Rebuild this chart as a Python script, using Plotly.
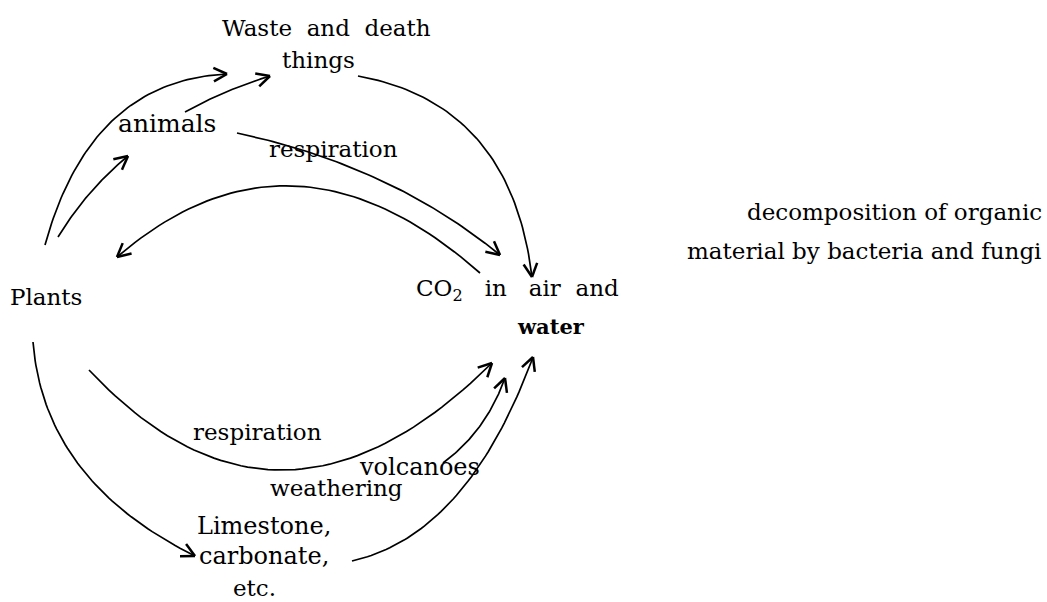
import numpy as np
import plotly.graph_objects as go

NB = "\u00a0"

# ---- text labels of the carbon-cycle diagram ----
label_text = [
    f"Waste{NB*2}and{NB*2}death",
    "things",
    "animals",
    "respiration",
    "Plants",
    f"CO<sub>2</sub>{NB*3}in{NB*3}air{NB*2}and",
    "<b>water</b>",
    "respiration",
    "volcanoes",
    "weathering",
    "Limestone,",
    "carbonate,",
    "etc.",
]
label_x = [326, 318, 167, 333, 46, 517, 551, 257, 419, 336, 264, 264, 254]
label_y = [28, 60, 123, 149, 297, 290, 326, 432, 467, 488, 526, 556, 588]
label_size = [23, 23, 25, 23, 23, 23, 21, 23, 24, 23, 24, 24, 23]

side_text = ["decomposition of organic", "material by bacteria and fungi"]
side_x = [894, 864]
side_y = [212, 251]

# ---- arrows: start point, point at mid-curve, end point (arrowhead at end) ----
arrow_sx = [45, 58, 185, 358, 237, 480, 89, 33, 443, 352]
arrow_sy = [245, 237, 112, 76, 133, 273, 370, 342, 463, 561]
arrow_mx = [113, 90, 226, 478, 380, 295, 285, 79, 480, 455]
arrow_my = [120, 193, 92, 140, 180, 186, 470, 465, 426, 497]
arrow_ex = [227, 128, 270, 532, 500, 117, 492, 195, 505, 533]
arrow_ey = [74, 156, 76, 277, 255, 257, 363, 556, 378, 357]

W, H = 1047, 602
fig = go.Figure()

t = np.linspace(0, 1, 60)
for sx, sy, mx, my, ex, ey in zip(arrow_sx, arrow_sy, arrow_mx, arrow_my, arrow_ex, arrow_ey):
    cx = 2 * mx - (sx + ex) / 2
    cy = 2 * my - (sy + ey) / 2
    bx = (1 - t) ** 2 * sx + 2 * t * (1 - t) * cx + t ** 2 * ex
    by = (1 - t) ** 2 * sy + 2 * t * (1 - t) * cy + t ** 2 * ey
    fig.add_trace(go.Scatter(x=bx, y=by, mode="lines",
                             line=dict(color="black", width=1.7),
                             hoverinfo="skip", showlegend=False))
    # arrowhead
    dx, dy = ex - cx, ey - cy
    n = np.hypot(dx, dy)
    dx, dy = dx / n, dy / n
    L, th = 15, np.radians(27)
    hx, hy = [], []
    for s in (1, -1):
        c, si = np.cos(s * th), np.sin(s * th)
        rx = dx * c - dy * si
        ry = dx * si + dy * c
        hx += [ex - L * rx, ex, None]
        hy += [ey - L * ry, ey, None]
    fig.add_trace(go.Scatter(x=hx, y=hy, mode="lines",
                             line=dict(color="black", width=2.5),
                             hoverinfo="skip", showlegend=False))

for txt, x, y, sz in zip(label_text, label_x, label_y, label_size):
    fig.add_annotation(x=x, y=y, text=txt, showarrow=False, xanchor="center", yanchor="middle",
                       font=dict(family="DejaVu Serif", size=sz, color="black"))

for txt, x, y in zip(side_text, side_x, side_y):
    fig.add_annotation(x=x, y=y, text=txt, showarrow=False, xanchor="center", yanchor="middle",
                       font=dict(family="DejaVu Serif", size=23, color="black"))

fig.update_layout(
    width=W, height=H,
    margin=dict(l=0, r=0, t=0, b=0),
    paper_bgcolor="white", plot_bgcolor="white",
    xaxis=dict(range=[0, W], visible=False, fixedrange=True),
    yaxis=dict(range=[H, 0], visible=False, fixedrange=True),
    showlegend=False,
)

fig.write_html("out.html", config={"displayModeBar": False},
               post_script="document.body.style.margin='0px';")
